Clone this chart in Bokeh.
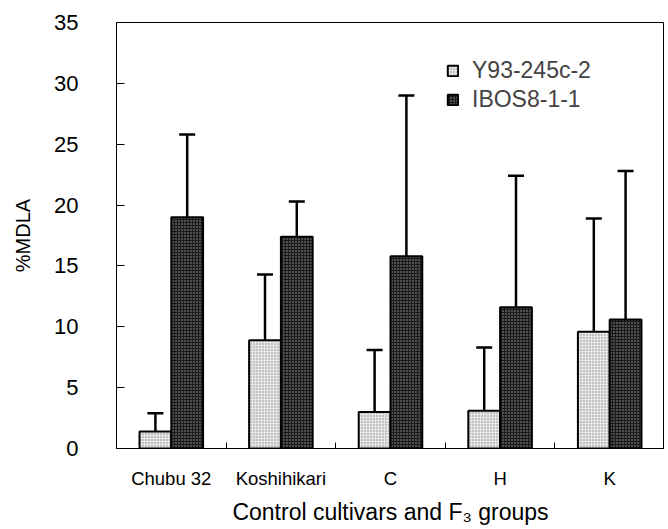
import numpy as np
from bokeh.plotting import figure
from bokeh.models import (ColumnDataSource, Range1d, FixedTicker, Whisker, TeeHead,
                          Legend, LegendItem)
from bokeh.embed import file_html
from bokeh.resources import INLINE

categories = ["Chubu 32", "Koshihikari", "C", "H", "K"]
series_names = ["Y93-245c-2", "IBOS8-1-1"]
y93_mean = [1.4, 8.9, 3.0, 3.1, 9.6]
y93_err = [1.5, 5.4, 5.1, 5.2, 9.3]
ibos_mean = [19.0, 17.4, 15.8, 11.6, 10.6]
ibos_err = [6.8, 2.9, 13.2, 10.8, 12.2]
y_ticks = [0, 5, 10, 15, 20, 25, 30, 35]

FONT = "Liberation Sans"
n = len(categories)
centers = np.arange(n) + 0.5
bw = 0.29

W, H = 664, 527
B_L, B_R, B_T, B_B = 116, W - 665, 22, 79
frame_h = H - B_T - B_B

p = figure(width=W, height=H, output_backend="svg", toolbar_location=None,
           x_range=Range1d(0, n), y_range=Range1d(0, 35),
           min_border_left=B_L, min_border_right=max(B_R, 0), min_border_top=B_T,
           min_border_bottom=B_B)
p.grid.visible = False
p.outline_line_color = "black"
p.outline_line_width = 1
p.background_fill_color = "white"
p.border_fill_color = "white"

src1 = ColumnDataSource(dict(x=centers - bw / 2, top=y93_mean,
                             upper=np.array(y93_mean) + np.array(y93_err)))
src2 = ColumnDataSource(dict(x=centers + bw / 2, top=ibos_mean,
                             upper=np.array(ibos_mean) + np.array(ibos_err)))

for src in (src1, src2):
    w = Whisker(source=src, base="x", lower="top", upper="upper", dimension="height",
                line_color="black", line_width=2.5, lower_head=None,
                upper_head=TeeHead(size=16, line_color="black", line_width=2.5))
    p.add_layout(w)

r1 = p.vbar(x="x", top="top", width=bw, bottom=0, source=src1,
            fill_color="#e6e6e6", line_color="black", line_width=2,
            hatch_pattern="dot", hatch_color="#8a8a8a", hatch_scale=3, hatch_weight=1)
r2 = p.vbar(x="x", top="top", width=bw, bottom=0, source=src2,
            fill_color="#1a1a1a", line_color="black", line_width=2,
            hatch_pattern="dot", hatch_color="#a0a0a0", hatch_scale=3, hatch_weight=1)

legend = Legend(items=[LegendItem(label=series_names[0], renderers=[r1]),
                       LegendItem(label=series_names[1], renderers=[r2])],
                location=(330, frame_h - 91), border_line_color=None, background_fill_alpha=0,
                padding=0, margin=0, spacing=2, glyph_width=13, glyph_height=13,
                label_height=24, label_standoff=13, label_text_font=FONT,
                label_text_font_size="23px", label_text_baseline="middle")
p.add_layout(legend)

# y axis
p.yaxis.ticker = FixedTicker(ticks=y_ticks, minor_ticks=[])
p.yaxis.major_tick_in = 8
p.yaxis.major_tick_out = 0
p.yaxis.minor_tick_line_color = None
p.yaxis.major_label_standoff = 38
p.yaxis.major_label_text_font = FONT
p.yaxis.major_label_text_font_size = "22px"
p.yaxis.major_label_text_color = "black"
p.yaxis.axis_label = "%MDLA"
p.yaxis.axis_label_text_font = FONT
p.yaxis.axis_label_text_font_size = "20px"
p.yaxis.axis_label_text_font_style = "normal"
p.yaxis.axis_label_text_color = "black"
p.yaxis.axis_label_standoff = 17
p.yaxis.axis_line_color = "black"

# x axis
p.xaxis.ticker = FixedTicker(ticks=list(centers), minor_ticks=list(np.arange(1, n)))
p.xaxis.major_label_overrides = {float(c): lab for c, lab in zip(centers, categories)}
p.xaxis.major_tick_line_color = None
p.xaxis.minor_tick_in = 6
p.xaxis.minor_tick_out = 0
p.xaxis.minor_tick_line_color = "black"
p.xaxis.major_label_standoff = 13
p.xaxis.major_label_text_font = FONT
p.xaxis.major_label_text_font_size = "18.5px"
p.xaxis.major_label_text_color = "black"
p.xaxis.axis_label = "Control cultivars and F\u2083 groups"
p.xaxis.axis_label_text_font = FONT
p.xaxis.axis_label_text_font_size = "23px"
p.xaxis.axis_label_text_font_style = "normal"
p.xaxis.axis_label_text_color = "black"
p.xaxis.axis_label_standoff = 7
p.xaxis.axis_line_color = "black"

open("out.html", "w").write(file_html(p, INLINE))
